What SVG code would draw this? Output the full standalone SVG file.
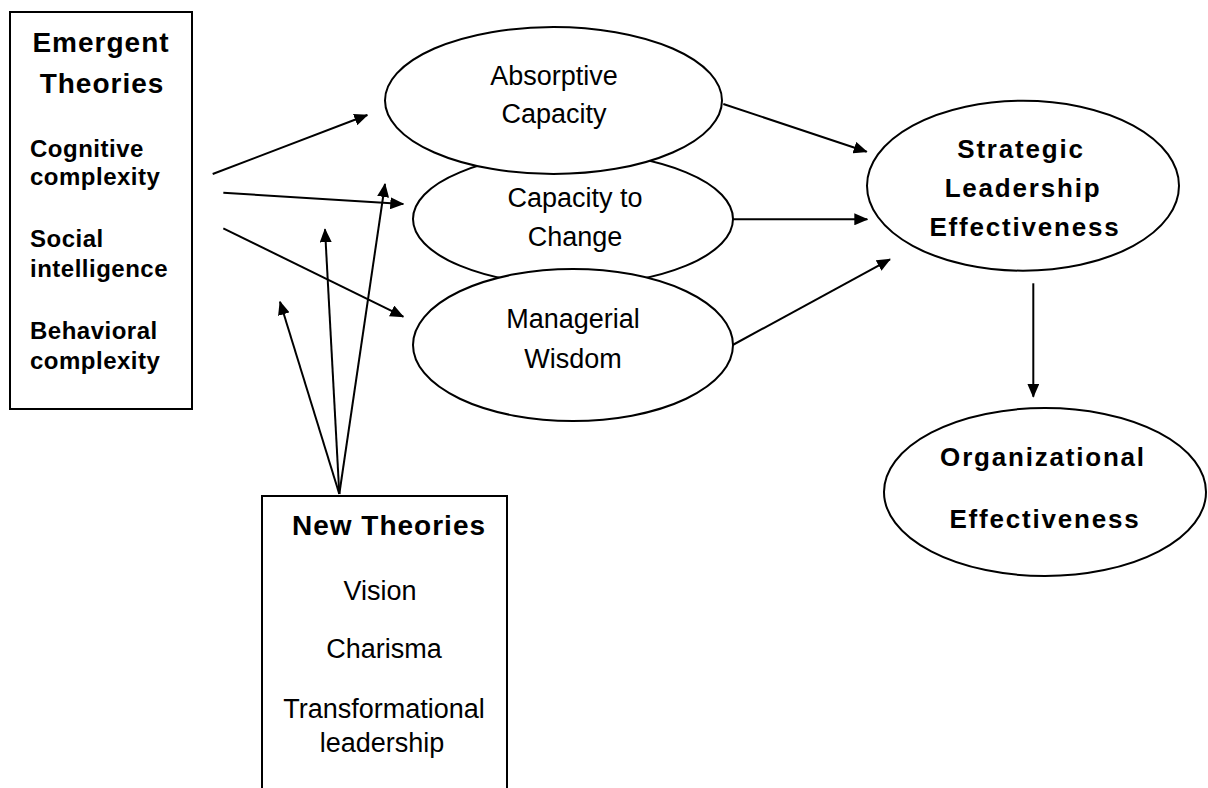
<svg xmlns="http://www.w3.org/2000/svg" width="1208" height="788" viewBox="0 0 1208 788">
<style>
.box{fill:#fff;stroke:#000;stroke-width:2}
.ell{fill:#fff;stroke:#000;stroke-width:2}
.t{font-family:"Liberation Sans",Arial,sans-serif;fill:#000}
.title{font-size:28px;font-weight:bold;letter-spacing:1px;text-anchor:middle}
.item{font-size:24px;font-weight:bold;letter-spacing:0.5px}
.reg{font-size:27px;text-anchor:middle}
.bold{font-size:26px;font-weight:bold;letter-spacing:1.8px;text-anchor:middle}
.con line{stroke:#000;stroke-width:2;marker-end:url(#ah)}
</style>
<defs>
<marker id="ah" markerUnits="userSpaceOnUse" markerWidth="14" markerHeight="12" refX="13" refY="6" orient="auto">
<path d="M0,0 L14,6 L0,12 z" fill="#000"/>
</marker>
</defs>
<rect width="1208" height="788" fill="#fff"/>
<g id="emergent">
<rect class="box" x="10" y="12" width="182" height="397"/>
<text class="t title" x="101" y="52">Emergent</text>
<text class="t title" x="102" y="93">Theories</text>
<text class="t item" x="30" y="157">Cognitive</text>
<text class="t item" x="30" y="185">complexity</text>
<text class="t item" x="30" y="247">Social</text>
<text class="t item" x="30" y="277">intelligence</text>
<text class="t item" x="30" y="339">Behavioral</text>
<text class="t item" x="30" y="369">complexity</text>
</g>
<g id="capacity-to-change">
<ellipse class="ell" cx="573" cy="219" rx="160" ry="66"/>
<text class="t reg" x="575" y="207">Capacity to</text>
<text class="t reg" x="575" y="246">Change</text>
</g>
<g id="absorptive-capacity">
<ellipse class="ell" cx="553.5" cy="100.5" rx="168.5" ry="73.5"/>
<text class="t reg" x="554" y="85">Absorptive</text>
<text class="t reg" x="554" y="123">Capacity</text>
</g>
<g id="managerial-wisdom">
<ellipse class="ell" cx="573" cy="345" rx="160" ry="76"/>
<text class="t reg" x="573" y="328">Managerial</text>
<text class="t reg" x="573" y="368">Wisdom</text>
</g>
<g id="strategic-leadership">
<ellipse class="ell" cx="1023" cy="185.7" rx="156" ry="85"/>
<text class="t bold" x="1021" y="158">Strategic</text>
<text class="t bold" x="1023" y="197">Leadership</text>
<text class="t bold" x="1025" y="236">Effectiveness</text>
</g>
<g id="organizational">
<ellipse class="ell" cx="1045" cy="492" rx="161" ry="84"/>
<text class="t bold" x="1043" y="466">Organizational</text>
<text class="t bold" x="1045" y="528">Effectiveness</text>
</g>
<g id="new-theories">
<rect class="box" x="262" y="496" width="245" height="310"/>
<text class="t title" x="389" y="535">New Theories</text>
<text class="t reg" x="380" y="600">Vision</text>
<text class="t reg" x="384" y="658">Charisma</text>
<text class="t reg" x="384" y="718">Transformational</text>
<text class="t reg" x="382" y="752">leadership</text>
</g>
<g id="connectors" class="con">
<line x1="212.7" y1="174" x2="367.3" y2="115"/>
<line x1="223.3" y1="192.7" x2="403.3" y2="204"/>
<line x1="223.3" y1="228.3" x2="403.3" y2="316.7"/>
<line x1="339.3" y1="494" x2="280" y2="301.7"/>
<line x1="339.3" y1="494" x2="325" y2="229.3"/>
<line x1="339.3" y1="494" x2="385" y2="184"/>
<line x1="723.3" y1="104" x2="866.7" y2="151.7"/>
<line x1="732.7" y1="219.3" x2="867.3" y2="219.3"/>
<line x1="732.7" y1="345" x2="890" y2="259.3"/>
<line x1="1033.3" y1="283.3" x2="1033.3" y2="396.7"/>
</g>
</svg>
